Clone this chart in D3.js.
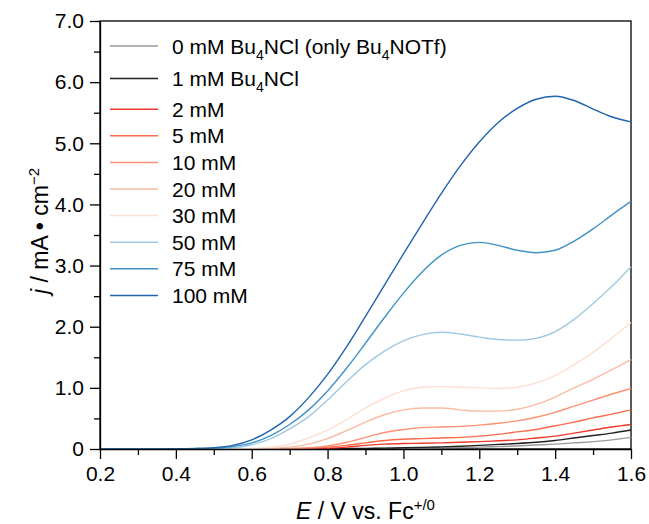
<!DOCTYPE html>
<html>
<head>
<meta charset="utf-8">
<script src="https://cdn.jsdelivr.net/npm/d3@7"></script>
<style>
  body { margin: 0; background: #fff; }
  text { font-family: "Liberation Sans", Arial, sans-serif; fill: #000; }
  .axis path, .axis line { stroke: #000; stroke-width: 1.3; }
</style>
</head>
<body>
<div id="chart"></div>
<script>
// potential grid (V vs Fc+/0)
const potential = [0.20, 0.25, 0.30, 0.35, 0.40, 0.45, 0.50, 0.55, 0.60, 0.65, 0.70, 0.75, 0.80, 0.85, 0.90,
  0.95, 1.00, 1.05, 1.10, 1.15, 1.20, 1.25, 1.30, 1.35, 1.40, 1.45, 1.50, 1.55, 1.60];

// current density (mA cm-2) per Bu4NCl concentration
const j0 = [0, 0, 0, 0, 0, 0, 0, 0, 0, 0, 0, 0, 0.002, 0.004, 0.006, 0.008, 0.01, 0.015, 0.02, 0.025, 0.03, 0.04, 0.05, 0.065, 0.08, 0.1, 0.12, 0.15, 0.19];
const j1 = [0, 0, 0, 0, 0, 0, 0, 0, 0, 0, 0, 0.003, 0.005, 0.007, 0.01, 0.015, 0.02, 0.027, 0.035, 0.045, 0.06, 0.075, 0.09, 0.11, 0.14, 0.18, 0.22, 0.26, 0.31];
const j2 = [0, 0, 0, 0, 0, 0, 0, 0, 0, 0, 0.003, 0.006, 0.012, 0.03, 0.06, 0.08, 0.09, 0.095, 0.1, 0.11, 0.12, 0.135, 0.15, 0.18, 0.21, 0.26, 0.31, 0.36, 0.4];
const j5 = [0, 0, 0, 0, 0, 0, 0, 0, 0, 0.003, 0.006, 0.012, 0.03, 0.06, 0.1, 0.14, 0.16, 0.17, 0.18, 0.19, 0.21, 0.24, 0.28, 0.32, 0.38, 0.44, 0.51, 0.57, 0.64];
const j10 = [0, 0, 0, 0, 0, 0, 0, 0, 0, 0.004, 0.01, 0.02, 0.05, 0.11, 0.19, 0.27, 0.32, 0.35, 0.36, 0.37, 0.39, 0.42, 0.46, 0.52, 0.6, 0.7, 0.8, 0.9, 0.99];
const j20 = [0, 0, 0, 0, 0, 0, 0, 0, 0.003, 0.01, 0.03, 0.08, 0.17, 0.3, 0.44, 0.56, 0.64, 0.67, 0.67, 0.64, 0.62, 0.62, 0.65, 0.73, 0.85, 1.0, 1.14, 1.3, 1.46];
const j30 = [0, 0, 0, 0, 0, 0, 0, 0.004, 0.01, 0.03, 0.08, 0.18, 0.31, 0.48, 0.67, 0.83, 0.95, 1.01, 1.02, 1.01, 1.0, 0.99, 1.01, 1.08, 1.2, 1.38, 1.58, 1.82, 2.07];
const j50 = [0, 0, 0, 0, 0, 0.003, 0.008, 0.02, 0.07, 0.17, 0.33, 0.53, 0.8, 1.1, 1.38, 1.6, 1.77, 1.87, 1.91, 1.88, 1.83, 1.79, 1.78, 1.81, 1.92, 2.12, 2.38, 2.66, 2.98];
const j75 = [0, 0, 0, 0, 0.003, 0.006, 0.015, 0.04, 0.1, 0.22, 0.4, 0.64, 0.95, 1.32, 1.73, 2.15, 2.55, 2.9, 3.17, 3.33, 3.38, 3.33, 3.25, 3.21, 3.25, 3.4, 3.6, 3.83, 4.05];
const j100 = [0, 0, 0, 0, 0.005, 0.01, 0.022, 0.06, 0.15, 0.31, 0.53, 0.84, 1.22, 1.67, 2.17, 2.68, 3.19, 3.69, 4.18, 4.63, 5.02, 5.34, 5.57, 5.72, 5.77, 5.7, 5.56, 5.43, 5.35];

const seriesValues = [j0, j1, j2, j5, j10, j20, j30, j50, j75, j100];
const seriesColors = ['#9a9a9a', '#222222', '#ef3b2c', '#fb6a4a', '#fc9272', '#fcbba1', '#fee0d2', '#9ecae1', '#4292c6', '#2064ad'];
// legend labels: [text, subscript, text, subscript, text]
const legendLabels = [
  ['0 mM Bu', '4', 'NCl (only Bu', '4', 'NOTf)'],
  ['1 mM Bu', '4', 'NCl'],
  ['2 mM'], ['5 mM'], ['10 mM'], ['20 mM'], ['30 mM'], ['50 mM'], ['75 mM'], ['100 mM'],
];
const xTicks = [0.2, 0.4, 0.6, 0.8, 1.0, 1.2, 1.4, 1.6];
const yTicks = [0, 1, 2, 3, 4, 5, 6, 7];

const margin = {top: 21, right: 18, bottom: 75, left: 100};
const W = 649, H = 524;
const width = W - margin.left - margin.right;
const height = H - margin.top - margin.bottom;

const svg = d3.select('#chart').append('svg')
  .attr('width', W)
  .attr('height', H)
  .append('g')
  .attr('transform', `translate(${margin.left},${margin.top})`);

const x = d3.scaleLinear().domain([0.2, 1.6]).range([0, width]);
const y = d3.scaleLinear().domain([0, 7]).range([height, 0]);

/* frame */
svg.append('rect')
  .attr('width', width)
  .attr('height', height)
  .style('fill', 'none')
  .style('stroke', '#000')
  .style('stroke-width', 1.3);

/* curves, low concentration first so the blue ones sit on top */
const line = d3.line()
  .x((d, i) => x(potential[i]))
  .y(d => y(d))
  .curve(d3.curveMonotoneX);

svg.append('g')
  .attr('class', 'lines')
  .selectAll('path')
  .data(seriesValues)
  .enter().append('path')
  .attr('d', line)
  .style('fill', 'none')
  .style('stroke', (d, i) => seriesColors[i])
  .style('stroke-width', 1.4);

/* axes: major + minor ticks pointing outward */
const xMinor = d3.range(0.3, 1.6, 0.2).map(v => +v.toFixed(2));
const yMinor = d3.range(0.5, 7, 1);

svg.append('g')
  .attr('class', 'x axis')
  .attr('transform', `translate(0,${height})`)
  .call(d3.axisBottom(x).tickValues(xTicks).tickSizeInner(10).tickSizeOuter(0).tickPadding(7)
    .tickFormat(d3.format('.1f')))
  .call(g => g.selectAll('text').style('font-size', '21px'));
svg.append('g')
  .attr('class', 'x axis minor')
  .attr('transform', `translate(0,${height})`)
  .call(d3.axisBottom(x).tickValues(xMinor).tickSizeInner(6).tickSizeOuter(0).tickFormat(''))
  .call(g => g.select('.domain').remove());

svg.append('g')
  .attr('class', 'y axis')
  .call(d3.axisLeft(y).tickValues(yTicks).tickSizeInner(10).tickSizeOuter(0).tickPadding(6)
    .tickFormat(d => d === 0 ? '0' : d3.format('.1f')(d)))
  .call(g => g.selectAll('text').style('font-size', '21px'));
svg.append('g')
  .attr('class', 'y axis minor')
  .call(d3.axisLeft(y).tickValues(yMinor).tickSizeInner(6).tickSizeOuter(0).tickFormat(''))
  .call(g => g.select('.domain').remove());

svg.selectAll('.axis text').style('fill', '#000').style('font-family', '"Liberation Sans", Arial, sans-serif');

/* axis titles */
const xTitle = svg.append('text')
  .attr('x', width / 2)
  .attr('y', height + 70)
  .style('text-anchor', 'middle')
  .style('font-size', '23px');
xTitle.append('tspan').style('font-style', 'italic').text('E');
xTitle.append('tspan').text(' / V vs. Fc');
xTitle.append('tspan').attr('dy', -9).style('font-size', '15px').text('+/0');

const yTitle = svg.append('text')
  .attr('transform', `translate(-52,${height / 2 - 4}) rotate(-90)`)
  .style('text-anchor', 'middle')
  .style('font-size', '23px');
yTitle.append('tspan').style('font-style', 'italic').text('j');
yTitle.append('tspan').text(' / mA • cm');
yTitle.append('tspan').attr('dy', -9).style('font-size', '15px').text('−2');

/* legend */
const legendY = i => 25 + i * 26.6 + (i >= 1 ? 6 : 0) + (i >= 2 ? 4 : 0);
const legend = svg.append('g')
  .attr('class', 'legends')
  .selectAll('.legend')
  .data(legendLabels)
  .enter().append('g')
  .attr('class', 'legend')
  .attr('transform', (d, i) => `translate(10,${legendY(i)})`);

legend.append('line')
  .attr('x1', 0)
  .attr('x2', 48)
  .style('stroke', (d, i) => seriesColors[i])
  .style('stroke-width', 1.5);

legend.append('text')
  .attr('x', 62)
  .attr('dy', '0.36em')
  .style('font-size', '21px')
  .each(function(parts) {
    const t = d3.select(this);
    parts.forEach((p, k) => {
      const sub = k % 2 === 1;
      t.append('tspan')
        .attr('dy', sub ? 6 : (k > 0 ? -6 : null))
        .style('font-size', sub ? '14px' : null)
        .text(p);
    });
  });
</script>
</body>
</html>
